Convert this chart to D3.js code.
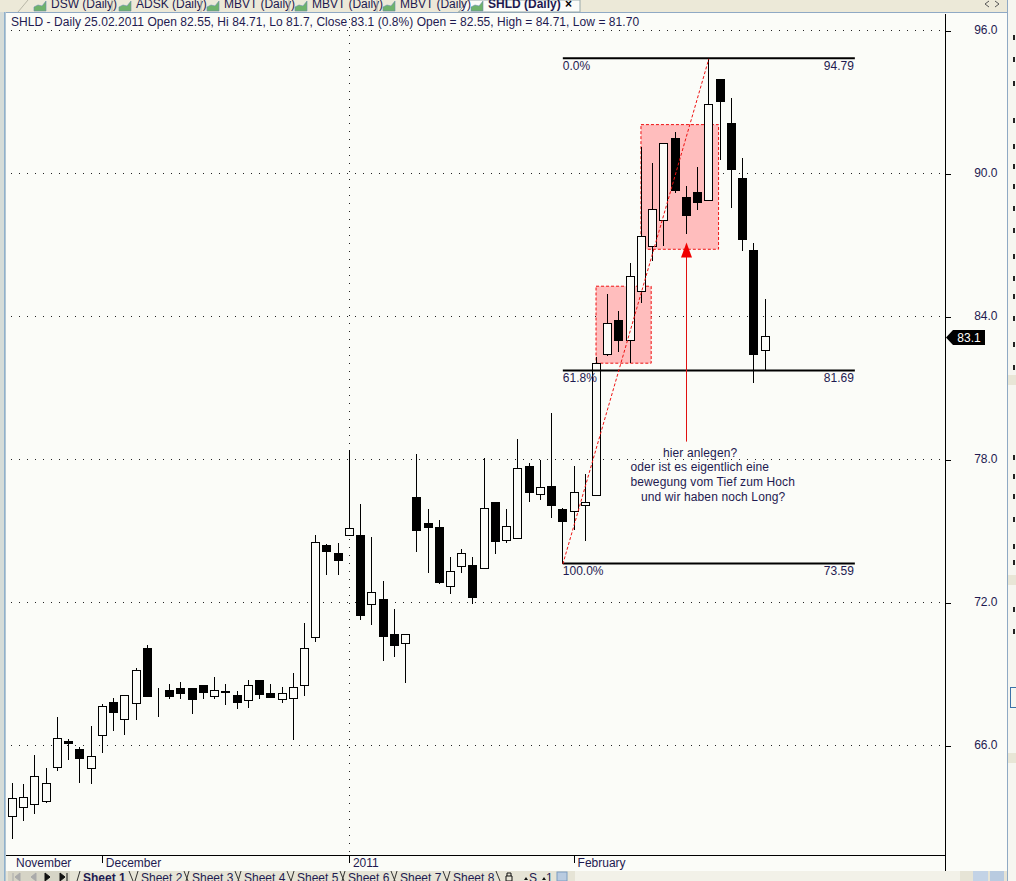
<!DOCTYPE html>
<html><head><meta charset="utf-8">
<script src="https://cdn.jsdelivr.net/npm/d3@7"></script>
<style>
html,body{margin:0;padding:0;background:#fbfcf8;overflow:hidden}
svg{display:block}
text{font-family:"Liberation Sans",Arial,sans-serif;font-size:12px;fill:#1e1a50}
</style></head><body>
<script>
const opens=[62.99,63.34,63.47,63.62,65.02,66.13,65.78,64.98,66.37,67.75,67.04,67.71,70.02,68.13,68.25,68.34,68.34,68.46,68.00,68.21,68.04,67.83,68.67,68.13,67.88,67.92,68.46,70.48,74.35,74.00,74.76,74.76,71.86,72.07,70.60,70.23,76.35,75.26,75.09,72.62,73.46,73.50,73.37,76.14,74.55,74.63,77.65,76.48,76.81,75.85,75.76,76.02,76.44,82.35,83.78,82.94,85.00,86.91,88.00,91.42,88.94,89.15,88.81,93.89,92.04,89.74,86.73,82.55];
const highs=[64.39,64.36,65.58,65.02,67.16,66.24,65.90,66.78,67.71,67.96,68.09,69.22,70.18,68.38,68.55,68.63,68.34,68.51,68.84,68.55,68.25,68.71,68.67,68.55,68.42,69.01,71.11,74.80,74.43,74.46,78.38,76.10,74.71,72.87,71.69,70.60,78.21,75.89,75.43,73.88,74.21,73.88,78.03,76.18,75.89,78.83,77.82,77.95,79.92,75.93,77.69,77.36,82.29,84.92,84.20,86.21,91.10,90.41,91.21,91.71,89.46,90.24,94.79,93.89,93.14,90.62,87.06,84.71];
const lows=[62.07,62.82,63.12,63.58,64.92,65.38,64.42,64.38,65.68,66.60,66.43,67.06,68.03,67.19,67.94,67.94,67.31,67.94,67.94,67.69,67.52,67.57,67.94,67.98,67.77,66.22,68.06,70.33,73.15,73.15,74.76,71.26,71.05,69.54,69.71,68.61,74.11,73.23,72.77,72.35,73.23,71.93,73.37,74.03,74.49,74.63,76.21,76.29,75.54,73.59,75.02,74.57,76.44,82.31,82.50,82.04,84.56,86.32,86.94,89.17,87.44,88.45,88.81,90.55,88.55,86.73,81.20,81.70];
const closes=[63.72,63.76,64.64,64.35,66.24,66.05,65.43,65.48,67.58,67.36,68.04,69.09,68.03,68.13,68.03,68.15,67.90,68.19,68.25,68.17,67.77,68.46,68.11,67.98,68.13,68.40,70.02,74.49,74.11,73.73,75.05,71.43,72.37,70.54,70.17,70.60,74.99,75.12,72.81,73.25,74.00,72.18,75.89,74.53,75.13,77.57,76.59,76.77,76.04,75.37,76.56,76.14,81.97,83.65,82.96,85.62,87.30,88.44,91.21,89.26,88.21,88.76,92.84,92.99,90.14,87.20,82.38,83.10];

const priceTicks=[66,72,78,84,90,96];
const monthTickIdx=[8,30,50];
const monthLabels=["December","2011","February"];
const firstMonth="November";
const gridDates=[30];

const fibLevels=[94.79,81.69,73.59];
const fibPct=["0.0%","61.8%","100.0%"];
const fibStart=49, fibEnd=75;
const trendIdx=[49,62];
const trendVal=[73.59,94.79];
const boxIdx0=[56,52], boxIdx1=[63,57], boxHi=[92.03,85.25], boxLo=[86.80,82.02];
const arrowIdx=60, arrowFrom=78.73, arrowTip=87.08;
const noteLines=["hier anlegen?","oder ist es eigentlich eine","bewegung vom Tief zum Hoch","und wir haben noch Long?"];
const noteX=[663,630.5,630.5,641];
const lastClose=83.1;
const header="SHLD - Daily 25.02.2011 Open 82.55, Hi 84.71, Lo 81.7, Close 83.1 (0.8%) Open = 82.55, High = 84.71, Low = 81.70";

const tabNames=["DSW (Daily)","ADSK (Daily)","MBVT (Daily)","MBVT (Daily)","MBVT (Daily)","SHLD (Daily)"];
const tabX=[51,136,224,312,400,488];
const tabEnds=[112,201,289,377];
const sheetNames=["Sheet 1","Sheet 2","Sheet 3","Sheet 4","Sheet 5","Sheet 6","Sheet 7","Sheet 8"];
const sheetX=[83,141,192,244,297,348,400,453];
const panelFragY=[38,60,84,121,147,167,187,209,231,257,279,297,319,345,368,458,477,497,520,547,563,610,632];
const panelBandY=[380,580,758];

const W=1016,H=881;
const svg=d3.select("body").append("svg").attr("width",W).attr("height",H);
const x=d3.scaleLinear().domain([0,67]).range([12.5,765]);
const y=d3.scaleLinear().domain([66,96]).range([745,30]);
const px=v=>Math.floor(x(v))+.5, py=v=>Math.round(y(v))-.5;
const AX=945, BY=855;

// window chrome
svg.append("rect").attr("width",W).attr("height",H).attr("fill","#fbfcf8");
svg.append("rect").attr("x",0).attr("y",0).attr("width",6).attr("height",H).attr("fill","#d5dcd8");
svg.append("rect").attr("x",4).attr("y",0).attr("width",1.5).attr("height",H).attr("fill","#8fb0cc");
svg.append("rect").attr("x",1007).attr("y",0).attr("width",9).attr("height",H).attr("fill","#f6f6f0");
svg.append("rect").attr("x",1007).attr("y",0).attr("width",1).attr("height",H).attr("fill","#8fa9c4");
const panel=svg.append("g");
panel.selectAll("rect.f").data(panelFragY).join("rect").attr("class","f")
 .attr("x",1013).attr("y",d=>d-3).attr("width",2).attr("height",5).attr("fill","#222");
panel.selectAll("rect.b").data(panelBandY).join("rect").attr("class","b")
 .attr("x",1008).attr("y",d=>d-5).attr("width",8).attr("height",10).attr("fill","#e8e6d6");
panel.append("rect").attr("x",1010.5).attr("y",687.5).attr("width",8).attr("height",20).attr("fill","none").attr("stroke","#3c72a8");

// grid
const grid=svg.append("g").attr("shape-rendering","crispEdges");
grid.selectAll("line.h").data(priceTicks).join("line").attr("class","h")
 .attr("x1",11).attr("x2",942).attr("y1",d=>Math.round(y(d))+.5).attr("y2",d=>Math.round(y(d))+.5)
 .attr("stroke","#222").attr("stroke-dasharray","1 7");
grid.selectAll("line.v").data(gridDates).join("line").attr("class","v")
 .attr("x1",d=>px(d)).attr("x2",d=>px(d)).attr("y1",19).attr("y2",BY)
 .attr("stroke","#222").attr("stroke-dasharray","1 7");

// boxes
svg.append("g").selectAll("rect").data(boxHi).join("rect")
 .attr("x",(d,i)=>x(boxIdx0[i])-.5).attr("width",(d,i)=>x(boxIdx1[i])-x(boxIdx0[i])-1)
 .attr("y",d=>y(d)).attr("height",(d,i)=>y(boxLo[i])-y(d))
 .attr("fill","#ffbdbd").attr("stroke","#ee1111").attr("stroke-dasharray","3 2").attr("stroke-width",1);

// candles
const g=svg.append("g").attr("shape-rendering","crispEdges");
const idx=d3.range(opens.length);
g.selectAll("line.w").data(idx).join("line").attr("class","w")
 .attr("x1",px).attr("x2",px).attr("y1",i=>Math.round(y(highs[i]))).attr("y2",i=>Math.round(y(lows[i])))
 .attr("stroke","#000");
g.selectAll("rect.b").data(idx).join("rect").attr("class","b")
 .attr("x",i=>px(i)-4).attr("width",8)
 .attr("y",i=>py(Math.max(opens[i],closes[i])))
 .attr("height",i=>Math.max(Math.abs(py(opens[i])-py(closes[i])),i==13?0:1))
 .attr("fill",i=>closes[i]>=opens[i]?"#fbfcf8":"#000")
 .attr("stroke","#000").attr("stroke-width",1);

// fib
const fib=svg.append("g");
fib.selectAll("line").data(fibLevels).join("line")
 .attr("x1",x(fibStart)).attr("x2",x(fibEnd)).attr("y1",d=>y(d)-.5).attr("y2",d=>y(d)-.5)
 .attr("stroke","#000").attr("stroke-width",2);
fib.selectAll("text.p").data(fibPct).join("text").attr("class","p")
 .attr("x",x(fibStart)).attr("y",(d,i)=>y(fibLevels[i])+11).text(d=>d);
fib.selectAll("text.v").data(fibLevels).join("text").attr("class","v")
 .attr("x",x(fibEnd)-1).attr("text-anchor","end").attr("y",d=>y(d)+11).text(d=>d.toFixed(2));

// trend line
svg.append("line").attr("x1",x(trendIdx[0])).attr("y1",y(trendVal[0]))
 .attr("x2",x(trendIdx[1])).attr("y2",y(trendVal[1]))
 .attr("stroke","#ee1111").attr("stroke-dasharray","3 2").attr("stroke-width",1);

// arrow
const ax=px(arrowIdx);
svg.append("line").attr("x1",ax).attr("x2",ax).attr("y1",y(arrowFrom)).attr("y2",y(arrowTip)+10)
 .attr("stroke","#e01010");
svg.append("path").attr("d",`M${ax},${y(arrowTip)}L${ax+5.5},${y(arrowTip)+15}L${ax-5.5},${y(arrowTip)+15}Z`).attr("fill","#f00000");

// note
svg.append("g").selectAll("text").data(noteLines).join("text")
 .attr("x",(d,i)=>noteX[i]).attr("y",(d,i)=>456.5+i*14.9).attr("letter-spacing",.12).text(d=>d);

// header
svg.append("text").attr("x",11).attr("y",26).attr("letter-spacing",.05).text(header);

// axes
const yAxis=d3.axisRight(y).tickValues(priceTicks).tickFormat(d3.format(".1f")).tickSize(5).tickPadding(4);
const ya=svg.append("g").attr("transform",`translate(${AX+.5},0)`).call(yAxis);
ya.select(".domain").remove();
ya.selectAll("line").attr("stroke","#000").attr("shape-rendering","crispEdges").attr("transform","translate(0,.5)");
ya.selectAll("text").attr("x",52).attr("text-anchor","end").attr("font-size",12).attr("font-family",null);
svg.append("line").attr("x1",AX+.5).attr("x2",AX+.5).attr("y1",14).attr("y2",871).attr("stroke","#000").attr("shape-rendering","crispEdges");

const xAxis=d3.axisBottom(x).tickValues(monthTickIdx).tickFormat((d,i)=>monthLabels[i]).tickSize(7).tickPadding(0);
const xa=svg.append("g").attr("transform",`translate(-.5,${BY+.5})`).call(xAxis);
xa.select(".domain").remove();
xa.selectAll("line").attr("stroke","#000").attr("shape-rendering","crispEdges");
xa.selectAll("text").attr("text-anchor","start").attr("x",3.5).attr("y",3).attr("dy","0.71em").attr("font-size",12).attr("font-family",null);
svg.append("line").attr("x1",6).attr("x2",AX).attr("y1",BY+.5).attr("y2",BY+.5).attr("stroke","#000").attr("shape-rendering","crispEdges");
svg.append("text").attr("x",16).attr("y",867).text(firstMonth);

// last price flag
const ly=y(lastClose);
svg.append("path").attr("d",`M946,${ly}L953,${ly-7.5}H985V${ly+7.5}H953Z`).attr("fill","#000");
svg.append("text").attr("x",969).attr("y",ly+4.5).attr("text-anchor","middle").style("fill","#fff").text(lastClose.toFixed(1));

// top tabs
svg.append("rect").attr("x",0).attr("y",0).attr("width",1007).attr("height",12).attr("fill","#ece9d8");
svg.append("rect").attr("x",6).attr("y",12).attr("width",1001).attr("height",1).attr("fill","#8fa9c4");
svg.append("path").attr("d","M458,13L468,0H580V12H458Z").attr("fill","#fbfcf8").attr("stroke","#9aa");
const tabs=svg.append("g");
tabs.selectAll("path.ic").data(tabNames).join("path").attr("class","ic")
 .attr("d",(d,i)=>{const a=tabX[i]-17;return `M${a},11V7L${a+4},5L${a+8},6L${a+12},1V11Z`})
 .attr("fill","#6fb36a").attr("stroke","#6a8fb0").attr("stroke-width",.6);
tabs.selectAll("text").data(tabNames).join("text")
 .attr("x",(d,i)=>tabX[i]).attr("y",8)
 .attr("font-weight",(d,i)=>i==5?"bold":null).text(d=>d);
svg.append("text").attr("x",565).attr("y",8).attr("font-weight","bold").style("fill","#000").text("\u00d7");
tabs.selectAll("line").data(tabEnds).join("line")
 .attr("x1",d=>d).attr("x2",d=>d).attr("y1",0).attr("y2",12).attr("stroke","#b8b6a6");
svg.append("path").attr("d","M18,12L28,0").attr("stroke","#b8b6a6").attr("fill","none");
svg.append("path").attr("d","M989,1L985,4L989,7M995,1L999,4L995,7").attr("stroke","#555").attr("fill","none");

// bottom sheets
svg.append("rect").attr("x",6).attr("y",871).attr("width",1001).attr("height",10).attr("fill","#e6e4d6");
svg.append("rect").attr("x",8).attr("y",871).attr("width",62).attr("height",10).attr("fill","#d6d4c6");
svg.append("rect").attr("x",575).attr("y",871).attr("width",385).attr("height",10).attr("fill","#f2f1e8");
const sh=svg.append("g");
sh.selectAll("text").data(sheetNames).join("text")
 .attr("x",(d,i)=>sheetX[i]).attr("y",882)
 .attr("font-weight",(d,i)=>i==0?"bold":null).text(d=>d);
sh.selectAll("path").data(sheetX).join("path")
 .attr("d",d=>`M${d-6},881L${d-3},871M${d+(d==83?46:43)},871L${d+(d==83?50:47)},881`).attr("stroke","#333").attr("fill","none");
svg.append("path").attr("d","M13,873V881M20,873L15,877L20,881ZM36,873L31,877L36,881Z").attr("stroke","#aaa").attr("fill","#aaa");
svg.append("path").attr("d","M45,873L50,877L45,881ZM60,873L65,877L60,881ZM67,873V881").attr("stroke","#111").attr("fill","#111");
svg.append("path").attr("d","M506,881V876H512V881ZM507,876V873H511V876").attr("stroke","#111").attr("fill","none");
svg.append("path").attr("d","M524,880L526,877L528,880ZM542,880L544,877L546,880").attr("fill","#111");
svg.append("text").attr("x",529).attr("y",882).attr("font-size",10).text("S");
svg.append("text").attr("x",546).attr("y",882).attr("font-size",10).text("1");
svg.append("rect").attr("x",557).attr("y",872).attr("width",10).attr("height",9).attr("fill","#b9cbe0").attr("stroke","#7d9cc0");
svg.append("rect").attr("x",973).attr("y",871).attr("width",15).attr("height",10).attr("fill","#c3d3e6");
svg.append("rect").attr("x",990).attr("y",871).attr("width",14).attr("height",10).attr("fill","#b9cbe0");
</script>
</body></html>
